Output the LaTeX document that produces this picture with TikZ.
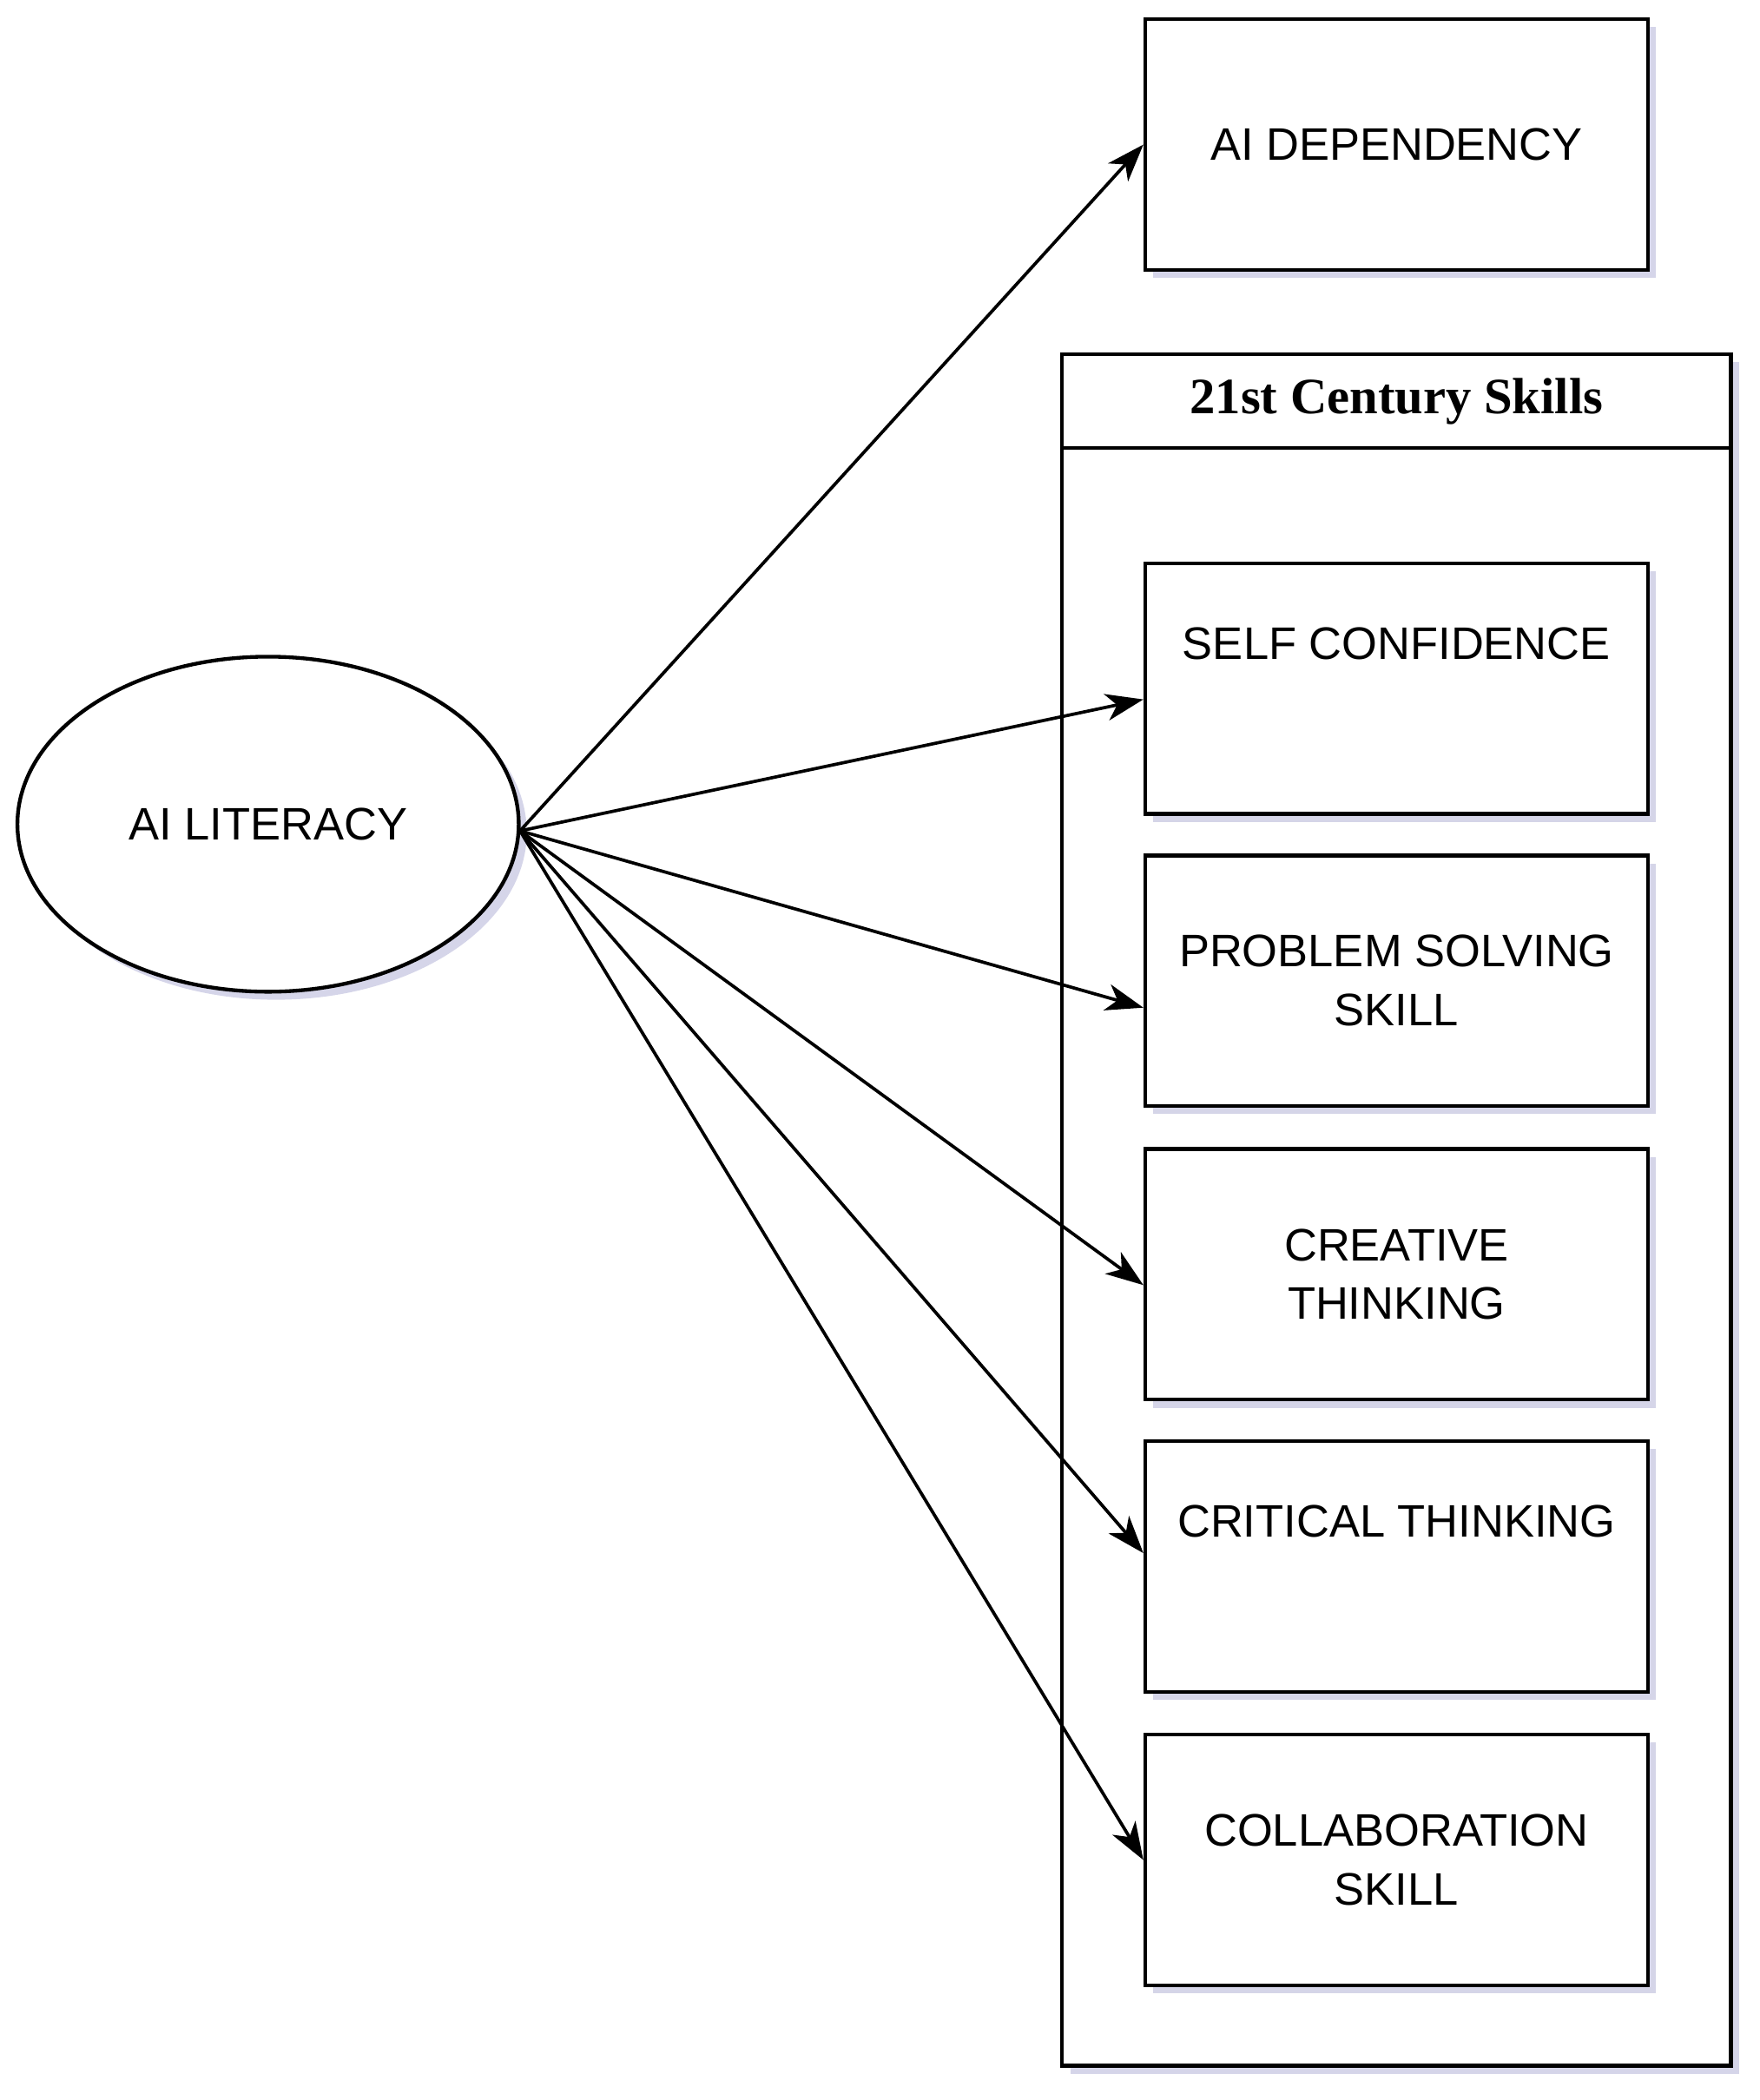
\documentclass[tikz,border=0pt]{standalone}
\usepackage{fontspec}
\setmainfont{Liberation Sans}
\newfontfamily\hdr{Liberation Serif}
\usetikzlibrary{shapes.geometric,shadows,arrows.meta}
\begin{document}
\begin{tikzpicture}[x=0.5pt,y=-0.5pt,
  sh/.style={drop shadow={shadow xshift=3pt,shadow yshift=-3pt,opacity=0.25,fill=blue!30!gray}},
  box/.style={draw,line width=1.4pt,fill=white,sh,minimum width=187.5pt,minimum height=93.5pt,align=center,font=\fontsize{17}{22}\selectfont},
  arr/.style={line width=1.2pt,-{Stealth[length=14pt,width=10pt,inset=4pt]}}]
\useasboundingbox (0,0) rectangle (1313,1567);
\node[box,anchor=north west] (dep) at (853,13) {AI DEPENDENCY};
\node[draw,line width=1.4pt,fill=white,sh,minimum width=249.5pt,minimum height=638.5pt,anchor=north west] (cont) at (791,263) {};
\node[draw,line width=1.4pt,minimum width=249.5pt,minimum height=35pt,anchor=north west,font=\hdr\bfseries\fontsize{19}{22}\selectfont] (hd) at (791,263) {21st Century Skills};
\node[box,anchor=north west] (sc) at (853,419) {SELF CONFIDENCE\\[12pt]};
\node[box,anchor=north west] (ps) at (853,637) {PROBLEM SOLVING\\SKILL};
\node[box,anchor=north west] (ct) at (853,856) {CREATIVE\\THINKING};
\node[box,anchor=north west] (cr) at (853,1074) {CRITICAL THINKING\\[12pt]};
\node[box,anchor=north west] (co) at (853,1293) {COLLABORATION\\SKILL};
\node[draw,ellipse,line width=1.4pt,fill=white,sh,minimum width=187pt,minimum height=125pt,font=\fontsize{17}{22}\selectfont] (ai) at (200,615) {AI LITERACY};
\coordinate (o) at (388,620);
\draw[arr] (o) -- (dep.west);
\draw[arr] (o) -- ([yshift=-4pt]sc.west);
\draw[arr] (o) -- ([yshift=-10pt]ps.west);
\draw[arr] (o) -- ([yshift=-4pt]ct.west);
\draw[arr] (o) -- ([yshift=5pt]cr.west);
\draw[arr] (o) -- ([yshift=0pt]co.west);
\end{tikzpicture}
\end{document}
